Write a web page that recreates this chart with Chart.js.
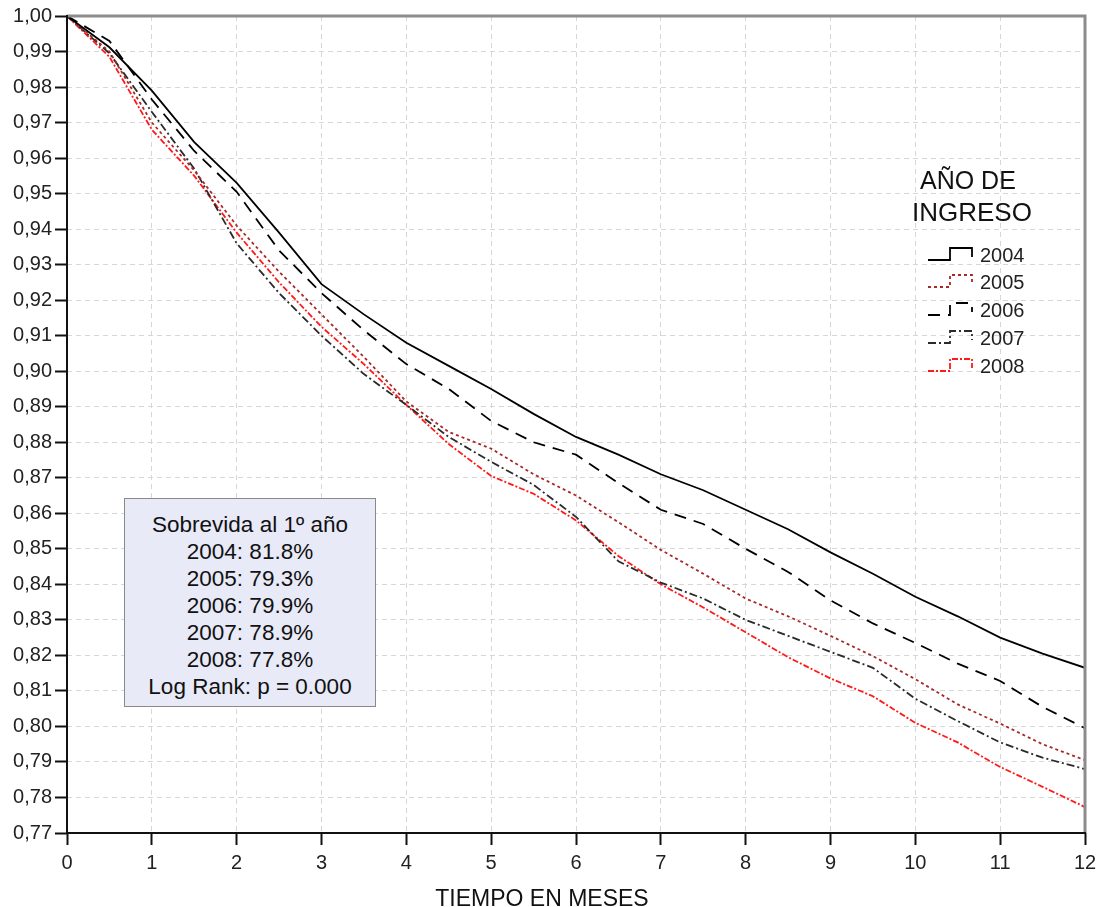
<!DOCTYPE html>
<html>
<head>
<meta charset="utf-8">
<script src="https://cdn.jsdelivr.net/npm/chart.js@4.4.0/dist/chart.umd.min.js"></script>
<style>
  html, body { margin: 0; padding: 0; background: #fff; }
  #wrap { position: relative; width: 1099px; height: 907px; font-family: "Liberation Sans", Arial, sans-serif; }
  #c { position: absolute; left: 0; top: 0; }
  .t { position: absolute; color: #111; white-space: nowrap; }
  #box { position: absolute; left: 124px; top: 498px; width: 252px; height: 209px; background: #e8eaf8; border: 1px solid #8a8a8a; box-sizing: border-box; padding-top: 12px; }
  #box div { text-align: center; font-size: 22.5px; line-height: 27px; color: #111; }
  .leg { position: absolute; font-size: 20px; color: #222; left: 980px; }
  #xt { position: absolute; left: 542px; top: 885px; transform: translateX(-50%); font-size: 23px; color: #111; white-space: nowrap; }
</style>
</head>
<body>
<div id="wrap">
  <canvas id="c" width="1099" height="907"></canvas>
  <div id="box">
    <div>Sobrevida al 1º año</div>
    <div>2004: 81.8%</div>
    <div>2005: 79.3%</div>
    <div>2006: 79.9%</div>
    <div>2007: 78.9%</div>
    <div>2008: 77.8%</div>
    <div>Log Rank: p = 0.000</div>
  </div>
  <div class="t" style="left:920px; top:166px; font-size:25px;">AÑO DE</div>
  <div class="t" style="left:912px; top:197px; font-size:26px;">INGRESO</div>
  <div class="leg" style="top:244px;">2004</div>
  <div class="leg" style="top:271px;">2005</div>
  <div class="leg" style="top:299px;">2006</div>
  <div class="leg" style="top:327px;">2007</div>
  <div class="leg" style="top:355px;">2008</div>
  <div id="xt">TIEMPO EN MESES</div>
</div>
<script>
const months = [0,0.5,1,1.5,2,2.5,3,3.5,4,4.5,5,5.5,6,6.5,7,7.5,8,8.5,9,9.5,10,10.5,11,11.5,12];
const s2004 = [1.000,0.9912,0.979,0.9645,0.953,0.939,0.9245,0.916,0.908,0.9015,0.895,0.888,0.8815,0.8765,0.871,0.8665,0.861,0.8555,0.849,0.843,0.8365,0.831,0.825,0.8205,0.8165];
const s2005 = [1.000,0.990,0.970,0.9565,0.941,0.928,0.916,0.904,0.8915,0.8829,0.8782,0.871,0.865,0.8575,0.8497,0.843,0.836,0.831,0.8255,0.8198,0.8133,0.8062,0.8008,0.795,0.7905];
const s2006 = [1.000,0.993,0.9765,0.962,0.9505,0.934,0.922,0.9115,0.902,0.895,0.886,0.880,0.8765,0.8685,0.861,0.857,0.850,0.8435,0.8355,0.829,0.8235,0.8177,0.8128,0.8055,0.7995];
const s2007 = [1.000,0.9895,0.973,0.957,0.936,0.922,0.910,0.8992,0.8905,0.8815,0.8745,0.868,0.859,0.8465,0.8405,0.836,0.830,0.8255,0.821,0.8165,0.8078,0.8015,0.7955,0.7912,0.788];
const s2008 = [1.000,0.9885,0.968,0.955,0.939,0.925,0.9125,0.902,0.8905,0.8795,0.8705,0.8655,0.858,0.848,0.840,0.8335,0.8265,0.8195,0.8135,0.8085,0.801,0.7955,0.7886,0.783,0.7773];
const seriesNames = ['2004','2005','2006','2007','2008'];
const yTickMin = 0.77, yTickMax = 1.00, yStep = 0.01;
const xTickMin = 0, xTickMax = 12, xStep = 1;

const styles = [
  {color:'#000000', dash:[]},
  {color:'#a82828', dash:[3,3]},
  {color:'#000000', dash:[12,8]},
  {color:'#2a2a2a', dash:[8,3,2,3]},
  {color:'#ff1a1a', dash:[6,2,2,2]}
];
const allSeries = [s2004, s2005, s2006, s2007, s2008];

const datasets = allSeries.map((s, i) => ({
  label: seriesNames[i],
  data: months.map((m, j) => ({x: m, y: s[j]})),
  borderColor: styles[i].color,
  borderDash: styles[i].dash,
  borderWidth: 1.8,
  pointRadius: 0,
  fill: false,
  tension: 0
}));

const framePlugin = {
  id: 'frame',
  afterDraw(chart) {
    const {ctx, chartArea: a} = chart;
    ctx.save();
    ctx.setLineDash([]);
    ctx.strokeStyle = '#8c8c8c';
    ctx.lineWidth = 3;
    ctx.beginPath();
    ctx.moveTo(a.left, a.top);
    ctx.lineTo(a.right, a.top);
    ctx.lineTo(a.right, a.bottom);
    ctx.stroke();
    ctx.strokeStyle = '#111';
    ctx.lineWidth = 2;
    ctx.beginPath();
    ctx.moveTo(a.left, a.top - 1);
    ctx.lineTo(a.left, a.bottom);
    ctx.lineTo(a.right + 1, a.bottom);
    ctx.stroke();
    const ys = [256, 283, 311, 339, 367];
    styles.forEach((st, i) => {
      const y = ys[i];
      ctx.strokeStyle = st.color;
      ctx.setLineDash(st.dash);
      ctx.lineWidth = 1.8;
      ctx.beginPath();
      ctx.moveTo(928, y + 4);
      ctx.lineTo(950, y + 4);
      ctx.lineTo(950, y - 8);
      ctx.lineTo(972, y - 8);
      ctx.lineTo(972, y + 1);
      ctx.stroke();
    });
    ctx.restore();
  }
};

new Chart(document.getElementById('c'), {
  type: 'line',
  data: { datasets },
  options: {
    responsive: false,
    animation: false,
    layout: { padding: { top: 16, right: 14, left: 0, bottom: 0 } },
    plugins: { legend: { display: false }, tooltip: { enabled: false } },
    scales: {
      x: {
        type: 'linear',
        min: xTickMin, max: xTickMax,
        ticks: { stepSize: xStep, color: '#222', font: { family: 'Liberation Sans', size: 20 }, padding: 6, maxRotation: 0 },
        grid: { color: '#d6d6d6', borderDash: [5,4], tickColor: '#111', tickLength: 12, tickWidth: 2, tickBorderDash: [] },
        border: { display: false, dash: [5,4] },
        afterFit(scale) { scale.height = 74; scale.paddingRight = 0; scale.paddingLeft = 0; }
      },
      y: {
        type: 'linear',
        min: yTickMin, max: yTickMax,
        ticks: { stepSize: yStep, color: '#222', font: { family: 'Liberation Sans', size: 20 }, padding: 3,
          callback: v => Number(v).toFixed(2).replace('.', ',') },
        grid: { color: '#d6d6d6', borderDash: [5,4], tickColor: '#111', tickLength: 12, tickWidth: 2, tickBorderDash: [] },
        border: { display: false, dash: [5,4] },
        afterFit(scale) { scale.width = 67; scale.paddingTop = 0; scale.paddingBottom = 0; }
      }
    }
  },
  plugins: [framePlugin]
});
</script>
</body>
</html>
